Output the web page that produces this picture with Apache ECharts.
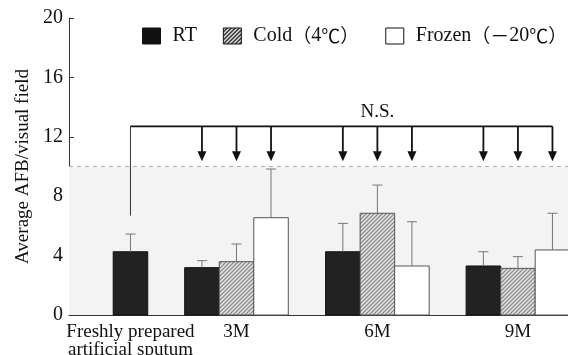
<!DOCTYPE html>
<html>
<head>
<meta charset="utf-8">
<script src="https://cdn.jsdelivr.net/npm/echarts@6/dist/echarts.min.js"></script>
<style>
    html, body {margin: 0; padding: 0; background: #fff;}
    #chart {width: 568px; height: 355px;}
</style>
</head>
<body>
<div id="chart"></div>
<script>
// 分组（横轴）
var groups = ['Freshly prepared\nartificial sputum', '3M', '6M', '9M'];
var groupPos = [1.78, 4.85, 8.93, 13.0];
// 平均值和标准差（只画上半部分误差线）
var rtMean = [4.26, 3.19, 4.26, 3.30];
var rtSD = [1.19, 0.47, 1.91, 0.96];
var coldMean = [null, 3.59, 6.85, 3.14];
var coldSD = [null, 1.19, 1.90, 0.79];
var frozenMean = [null, 6.55, 3.30, 4.38];
var frozenSD = [null, 3.28, 2.98, 2.47];
var seriesNames = ['RT', 'Cold（4℃）', 'Frozen（－20℃）'];
var yTicks = [0, 4, 8, 12, 16, 20];
var limitLine = 10;
// N.S. 括号
var bracketY = 12.7;
var bracketDrop = 6.7;
var arrowTip = 10.35;

var FONT = '"Liberation Serif", "DejaVu Serif", "Noto Sans CJK JP", serif';
var CJK = '"Noto Sans CJK JP", "Noto Sans CJK SC", sans-serif';
var means = [rtMean, coldMean, frozenMean];
var sds = [rtSD, coldSD, frozenSD];

function hatch(bg, fg, size, lw) {
    var c = document.createElement('canvas');
    c.width = c.height = size;
    var ctx = c.getContext('2d');
    ctx.fillStyle = bg;
    ctx.fillRect(0, 0, size, size);
    ctx.strokeStyle = fg;
    ctx.lineWidth = lw;
    ctx.beginPath();
    ctx.moveTo(0, size); ctx.lineTo(size, 0);
    ctx.moveTo(-1, 1); ctx.lineTo(1, -1);
    ctx.moveTo(size - 1, size + 1); ctx.lineTo(size + 1, size - 1);
    ctx.stroke();
    return {image: c, repeat: 'repeat'};
}

var barStyles = [
    {fill: '#222', stroke: '#111'},
    {fill: hatch('#e6e6e6', '#8c8c8c', 4, 1.3), stroke: '#555'},
    {fill: '#fff', stroke: '#555'}
];

function barData(s) {
    var out = [];
    groupPos.forEach(function (gx, g) {
        var idx = [];
        means.forEach(function (m, k) { if (m[g] != null) idx.push(k); });
        var j = idx.indexOf(s);
        if (j < 0) return;
        out.push([gx + j - (idx.length - 1) / 2, means[s][g], sds[s][g]]);
    });
    return out;
}

function barRender(s) {
    return function (params, api) {
        var x = api.value(0), v = api.value(1), sd = api.value(2);
        var base = api.coord([x, 0]);
        var top = api.coord([x, v]);
        var eTop = api.coord([x, v + sd]);
        var w = api.size([1, 0])[0];
        return {
            type: 'group',
            children: [
                {
                    type: 'rect',
                    shape: {x: base[0] - w / 2, y: top[1], width: w, height: base[1] - top[1]},
                    style: {fill: barStyles[s].fill, stroke: barStyles[s].stroke, lineWidth: 1}
                },
                {
                    type: 'line',
                    shape: {x1: top[0], y1: top[1], x2: eTop[0], y2: eTop[1]},
                    style: {stroke: '#777', lineWidth: 1}
                },
                {
                    type: 'line',
                    shape: {x1: eTop[0] - 5, y1: eTop[1], x2: eTop[0] + 5, y2: eTop[1]},
                    style: {stroke: '#777', lineWidth: 1}
                }
            ]
        };
    };
}

// 箭头位置 = 3M/6M/9M 各柱中心
var arrowXs = [];
[0, 1, 2].forEach(function (s) {
    barData(s).forEach(function (d) { if (d[0] > groupPos[0] + 1) arrowXs.push(d[0]); });
});
arrowXs.sort(function (a, b) { return a - b; });

function bracketRender(params, api) {
    var lastX = arrowXs[arrowXs.length - 1];
    var p0 = api.coord([groupPos[0], bracketDrop]);
    var p1 = api.coord([groupPos[0], bracketY]);
    var p2 = api.coord([lastX, bracketY]);
    var children = [
        {type: 'line', shape: {x1: p0[0], y1: p0[1], x2: p1[0], y2: p1[1]}, style: {stroke: '#333', lineWidth: 1}},
        {type: 'line', shape: {x1: p1[0], y1: p1[1], x2: p2[0], y2: p2[1]}, style: {stroke: '#111', lineWidth: 1.6}}
    ];
    arrowXs.forEach(function (ax) {
        var a = api.coord([ax, bracketY]);
        var t = api.coord([ax, arrowTip]);
        children.push({type: 'line', shape: {x1: a[0], y1: a[1], x2: t[0], y2: t[1] - 8}, style: {stroke: '#111', lineWidth: 1.8}});
        children.push({type: 'polygon', shape: {points: [[t[0] - 4.5, t[1] - 10], [t[0] + 4.5, t[1] - 10], [t[0], t[1]]]}, style: {fill: '#111'}});
    });
    var mid = api.coord([groupPos[2], bracketY]);
    children.push({
        type: 'text',
        style: {text: 'N.S.', x: mid[0], y: mid[1] - 5, align: 'center', verticalAlign: 'bottom', font: '19px ' + FONT, fill: '#111'}
    });
    return {type: 'group', children: children};
}

var chart = echarts.init(document.getElementById('chart'));
var option = {
    animation: false,
    grid: {left: 69, right: 0, top: 18, bottom: 40, containLabel: false, outerBoundsMode: 'none'},
    legend: {
        left: 137,
        top: 21,
        width: 470,
        itemWidth: 18,
        itemHeight: 16,
        itemGap: 26,
        textStyle: {
            fontFamily: FONT, fontSize: 20, color: '#111', padding: [0, 0, 0, 7],
            rich: {c: {fontFamily: CJK, fontSize: 19, color: '#111'}}
        },
        formatter: function (name) {
            return name.replace(/([（）℃－])/g, '{c|$1}');
        },
        data: [
            {name: seriesNames[0], icon: 'rect', itemStyle: {color: '#111', borderColor: '#111', borderWidth: 1}},
            {name: seriesNames[1], icon: 'rect', itemStyle: {color: hatch('#fff', '#111', 4, 1.4), borderColor: '#111', borderWidth: 1}},
            {name: seriesNames[2], icon: 'rect', itemStyle: {color: '#fff', borderColor: '#111', borderWidth: 1}}
        ],
        selectedMode: false
    },
    xAxis: {
        type: 'value',
        min: 0,
        max: 14.45,
        axisLine: {show: true, lineStyle: {color: '#333', width: 1}},
        axisTick: {show: false},
        splitLine: {show: false},
        axisLabel: {
            customValues: groupPos,
            margin: 8,
            fontFamily: FONT,
            fontSize: 19,
            lineHeight: 18,
            color: '#111',
            formatter: function (val) {
                var best = 0;
                groupPos.forEach(function (p, i) { if (Math.abs(p - val) < Math.abs(groupPos[best] - val)) best = i; });
                return groups[best];
            }
        }
    },
    yAxis: {
        type: 'value',
        min: yTicks[0],
        max: yTicks[yTicks.length - 1],
        interval: 4,
        name: 'Average AFB/visual field',
        nameLocation: 'middle',
        nameGap: 36,
        nameTextStyle: {fontFamily: FONT, fontSize: 19, color: '#111'},
        axisLine: {show: true, lineStyle: {color: '#333', width: 1}},
        axisTick: {show: true, inside: true, length: 5, lineStyle: {color: '#333'}},
        splitLine: {show: false},
        axisLabel: {fontFamily: FONT, fontSize: 20, color: '#111', margin: 6}
    },
    series: [
        {
            name: 'band',
            type: 'line',
            data: [],
            z: 0,
            markArea: {
                silent: true,
                itemStyle: {color: '#f3f3f3'},
                data: [[{yAxis: 0}, {yAxis: limitLine}]]
            },
            markLine: {
                silent: true,
                symbol: 'none',
                label: {show: false},
                lineStyle: {type: [4, 4], color: '#aaa', width: 1},
                data: [{yAxis: limitLine}]
            }
        },
        {name: seriesNames[0], type: 'custom', z: 2, clip: false, itemStyle: {color: '#111'}, data: barData(0), renderItem: barRender(0)},
        {name: seriesNames[1], type: 'custom', z: 2, clip: false, itemStyle: {color: '#888'}, data: barData(1), renderItem: barRender(1)},
        {name: seriesNames[2], type: 'custom', z: 2, clip: false, itemStyle: {color: '#fff'}, data: barData(2), renderItem: barRender(2)},
        {name: 'bracket', type: 'custom', z: 3, clip: false, data: [[0]], renderItem: bracketRender}
    ]
};
chart.setOption(option);
</script>
</body>
</html>
